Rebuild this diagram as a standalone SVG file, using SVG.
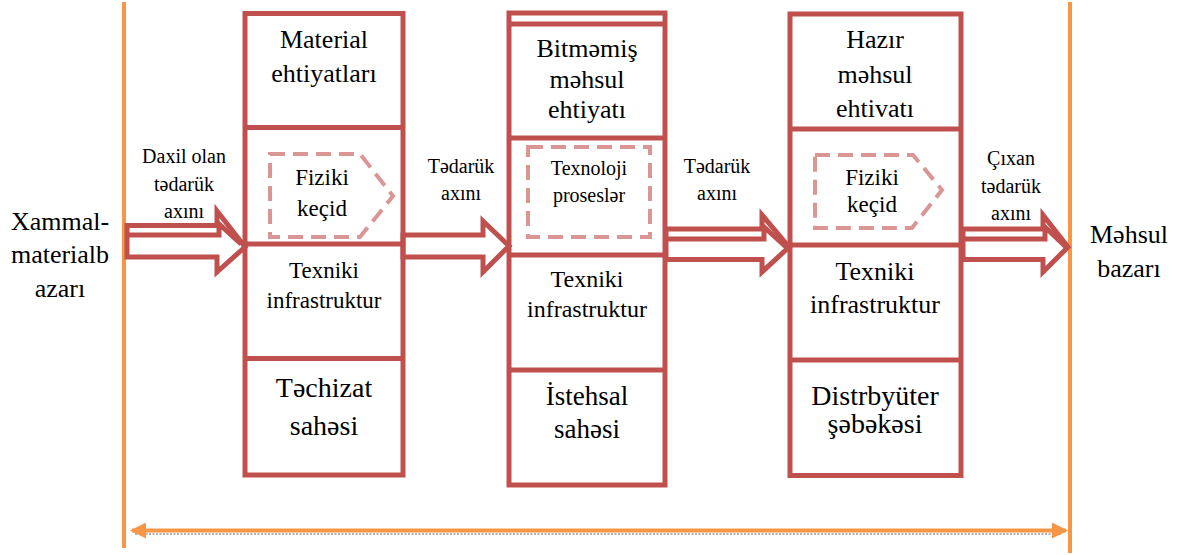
<svg xmlns="http://www.w3.org/2000/svg" width="1184" height="555" viewBox="0 0 1184 555">
<style>
.box{fill:none;stroke:#c0504d;stroke-width:5}
.ln{stroke:#c0504d;stroke-width:5}
.dash{fill:none;stroke:#d99694;stroke-width:4;stroke-dasharray:15 8}
.arr{fill:#fff;stroke:#c0504d;stroke-width:5;stroke-linejoin:miter}
.arl{fill:none;stroke:#c0504d;stroke-width:5}
text{font-family:"Times New Roman",Tinos,"Liberation Serif","Noto Serif","DejaVu Serif",Times,serif;fill:#000;text-anchor:middle}
.or{stroke:#f79646;stroke-width:4}
</style>
<defs>
<marker id="oh" viewBox="0 0 16 16" refX="14" refY="8" markerWidth="16" markerHeight="16" markerUnits="userSpaceOnUse" orient="auto-start-reverse">
<path d="M0,0 L16,8 L0,16 Z" fill="#f79646"/>
</marker>
</defs>
<rect width="1184" height="555" fill="#fff"/>

<g id="borders">
<line class="or" x1="124" y1="2" x2="124" y2="548"/>
<line class="or" x1="1070" y1="2" x2="1070" y2="553"/>
<line x1="135" y1="534" x2="1062" y2="534" stroke="#999" stroke-width="1.5" stroke-dasharray="2 1.5"/>
<line class="or" x1="132" y1="530.5" x2="1066" y2="530.5" marker-start="url(#oh)" marker-end="url(#oh)"/>
</g>

<g id="connectors">
<polygon class="arr" points="127,225.5 217,225.5 217,211 245,247 217,272 217,257 127,257"/>
<polyline class="arl" points="127,235 219,235 219,224 241,244"/>
<polygon class="arr" points="403,235 483,235 483,221 509,246 483,272 483,257 403,257"/>
<polygon class="arr" points="666,229 762,229 762,215 789,247 762,272 762,259.5 666,259.5"/>
<polyline class="arl" points="666,239 764,239 764,227 786,247"/>
<polygon class="arr" points="963,229 1043,229 1043,215 1068,247 1043,272 1043,259.5 963,259.5"/>
<polyline class="arl" points="963,239 1045,239 1045,227 1066,247"/>
</g>

<g id="supply">
<rect class="box" x="245" y="13.5" width="158" height="461.5"/>
<line class="ln" x1="245" y1="127.5" x2="403" y2="127.5"/>
<line class="ln" x1="245" y1="244" x2="403" y2="244"/>
<line class="ln" x1="245" y1="358.5" x2="403" y2="358.5"/>
<polygon class="dash" points="270,154 360,154 393,196 360,237 270,237"/>
<text x="324" y="48" font-size="26">Material</text>
<text x="324" y="82" font-size="26">ehtiyatları</text>
<text x="322" y="185" font-size="23">Fiziki</text>
<text x="322" y="216" font-size="23">keçid</text>
<text x="324" y="278" font-size="23">Texniki</text>
<text x="324" y="308" font-size="23">infrastruktur</text>
<text x="324" y="397" font-size="28">Təchizat</text>
<text x="324" y="435" font-size="28">sahəsi</text>
</g>

<g id="production">
<rect class="box" x="509" y="13" width="156" height="472"/>
<line class="ln" x1="509" y1="24" x2="665" y2="24"/>
<line class="ln" x1="509" y1="138" x2="665" y2="138"/>
<line class="ln" x1="509" y1="255" x2="665" y2="255"/>
<line class="ln" x1="509" y1="370" x2="665" y2="370"/>
<rect class="dash" x="528" y="147" width="122" height="90"/>
<text x="587" y="57" font-size="26">Bitməmiş</text>
<text x="587" y="88" font-size="26">məhsul</text>
<text x="587" y="118" font-size="26">ehtiyatı</text>
<text x="589" y="175" font-size="20">Texnoloji</text>
<text x="589" y="202" font-size="20">proseslər</text>
<text x="587" y="287" font-size="24">Texniki</text>
<text x="587" y="317" font-size="24">infrastruktur</text>
<text x="587" y="405" font-size="27">İstehsal</text>
<text x="587" y="438" font-size="27">sahəsi</text>
</g>

<g id="distribution">
<rect class="box" x="790" y="14" width="171" height="461.5"/>
<line class="ln" x1="790" y1="129" x2="961" y2="129"/>
<line class="ln" x1="790" y1="245" x2="961" y2="245"/>
<line class="ln" x1="790" y1="360" x2="961" y2="360"/>
<polygon class="dash" points="815,155 913,155 942,190 912,228 815,228"/>
<text x="875" y="48" font-size="26">Hazır</text>
<text x="875" y="83" font-size="26">məhsul</text>
<text x="875" y="117" font-size="26">ehtivatı</text>
<text x="872" y="185" font-size="23">Fiziki</text>
<text x="872" y="212" font-size="23">keçid</text>
<text x="875" y="280" font-size="26">Texniki</text>
<text x="875" y="313" font-size="26">infrastruktur</text>
<text x="875" y="405" font-size="28">Distrbyüter</text>
<text x="875" y="433" font-size="28">şəbəkəsi</text>
</g>

<g id="labels">
<text x="60" y="230" font-size="26">Xammal-</text>
<text x="60" y="263" font-size="26">materialb</text>
<text x="60" y="297" font-size="26">azarı</text>
<text x="1129" y="243" font-size="26">Məhsul</text>
<text x="1129" y="277" font-size="26">bazarı</text>
<text x="184" y="163" font-size="20">Daxil olan</text>
<text x="184" y="191" font-size="20">tədarük</text>
<text x="184" y="218" font-size="20">axını</text>
<text x="461" y="173" font-size="20">Tədarük</text>
<text x="461" y="200" font-size="20">axını</text>
<text x="717" y="173" font-size="20">Tədarük</text>
<text x="717" y="200" font-size="20">axını</text>
<text x="1011" y="165" font-size="20">Çıxan</text>
<text x="1011" y="193" font-size="20">tədarük</text>
<text x="1011" y="220" font-size="20">axını</text>
</g>
</svg>
